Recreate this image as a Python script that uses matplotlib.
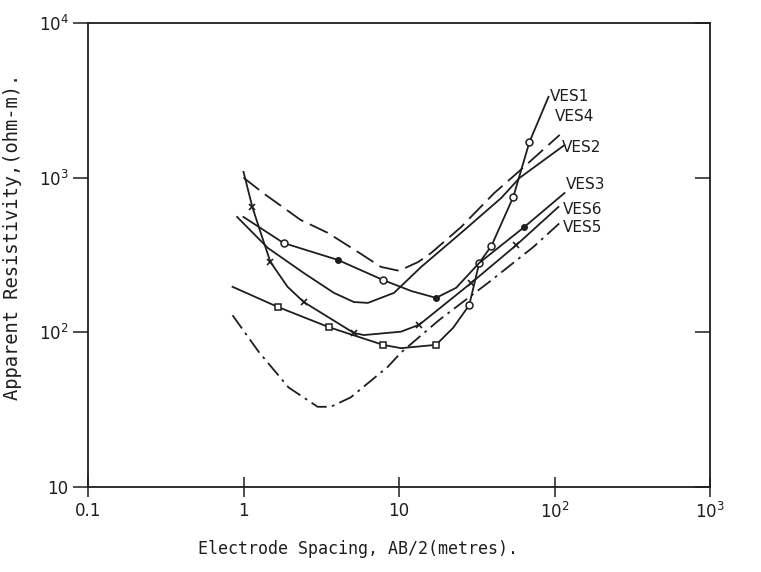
import matplotlib
matplotlib.use("Agg")
import matplotlib.pyplot as plt

# ---- data (AB/2 in m, apparent resistivity in ohm-m) ----
ves1_x = [0.85, 1.66, 3.54, 7.89, 10.3, 17.3, 22.3, 28.3, 32.8, 39.3, 54.3, 69.0, 91.5]
ves1_y = [197, 146, 108, 83, 79, 83, 107, 150, 281, 362, 750, 1700, 3330]

ves4_x = [1.0, 1.35, 2.33, 3.48, 5.44, 7.65, 10.0, 13.3, 16.1, 25.1, 41.0, 58.6, 108]
ves4_y = [1000, 790, 533, 440, 331, 265, 250, 285, 326, 480, 796, 1090, 1890]

ves2_x = [0.91, 1.43, 2.44, 3.81, 5.13, 6.31, 9.29, 13.9, 25.1, 45.5, 59.5, 116]
ves2_y = [557, 352, 242, 180, 157, 155, 180, 265, 440, 740, 995, 1625]

ves3_x = [1.0, 1.81, 4.04, 7.89, 12.0, 17.3, 23.3, 32.8, 64.0, 116]
ves3_y = [557, 378, 294, 218, 185, 167, 194, 281, 480, 796]

ves6_x = [1.0, 1.14, 1.29, 1.49, 1.92, 2.44, 5.13, 5.95, 10.3, 13.5, 29.2, 56.9, 106]
ves6_y = [1090, 647, 440, 285, 197, 157, 99, 96, 101, 112, 209, 367, 647]

ves5_x = [0.85, 1.25, 1.95, 3.0, 3.64, 4.9, 8.49, 10.3, 18.1, 38.1, 73.3, 108]
ves5_y = [129, 75, 44, 33, 33, 38, 60, 74, 120, 212, 357, 509]

labels = ["VES1", "VES4", "VES2", "VES3", "VES6", "VES5"]
label_x = [93, 100, 111, 119, 114, 114]
label_y = [3330, 2470, 1557, 898, 618, 473]

xticks = [0.1, 1, 10, 100, 1000]
xticklabels = ["0.1", "1", "10", r"$10^2$", r"$10^3$"]
yticks = [10, 100, 1000, 10000]
yticklabels = ["10", r"$10^2$", r"$10^3$", r"$10^4$"]

ink = "#1e1e1e"

fig = plt.figure(figsize=(7.61, 5.72), dpi=100)
ax = fig.add_axes([88/761, 85/572, (710-88)/761, (487-23)/572])
ax.set_xscale("log")
ax.set_yscale("log")
ax.set_xlim(0.1, 1000)
ax.set_ylim(10, 10000)

lw = 1.3
# VES1: squares on left limb, circles on steep limb
ax.plot(ves1_x, ves1_y, color=ink, lw=lw)
ax.plot(ves1_x, ves1_y, ls="none", marker="s", ms=4.5, mfc="white", mec=ink,
        mew=1.1, markevery=[1, 2, 3, 5])
ax.plot(ves1_x, ves1_y, ls="none", marker="o", ms=5, mfc="white", mec=ink,
        mew=1.1, markevery=[7, 8, 9, 10, 11])
# VES4: long dashes
ax.plot(ves4_x, ves4_y, color=ink, lw=lw, ls=(0, (11, 4)))
# VES2: solid
ax.plot(ves2_x, ves2_y, color=ink, lw=lw)
# VES3: solid with circles
ax.plot(ves3_x, ves3_y, color=ink, lw=lw)
ax.plot(ves3_x, ves3_y, ls="none", marker="o", ms=5, mfc="white", mec=ink,
        mew=1.1, markevery=[1, 3])
ax.plot(ves3_x, ves3_y, ls="none", marker="o", ms=4, mfc=ink, mec=ink,
        markevery=[2, 5, 8])
# VES6: solid with x
ax.plot(ves6_x, ves6_y, color=ink, lw=lw, marker="x", ms=5, mew=1.2,
        markevery=[1, 3, 5, 6, 9, 10, 11])
# VES5: dash-dot
ax.plot(ves5_x, ves5_y, color=ink, lw=lw, ls=(0, (9, 3, 1.5, 3)))

for t, xv, yv in zip(labels, label_x, label_y):
    ax.text(xv, yv, t, fontsize=11, color=ink, ha="left", va="center")

ax.set_xticks(xticks)
ax.set_xticklabels(xticklabels)
ax.set_yticks(yticks)
ax.set_yticklabels(yticklabels)
ax.minorticks_off()
ax.tick_params(axis="x", direction="inout", length=14, width=1.1, labelsize=12,
               pad=4, colors=ink)
ax.tick_params(axis="y", direction="out", length=11, width=1.1, labelsize=12,
               pad=3, colors=ink, right=True)
for s in ax.spines.values():
    s.set_linewidth(1.3)
    s.set_color(ink)
# right-side ticks point inward
for tl in ax.yaxis.get_major_ticks():
    tl.tick2line.set_marker(matplotlib.lines.TICKLEFT)
    tl.tick2line.set_markersize(11)

fig.text(358/761, 23/572, "Electrode Spacing, AB/2(metres).",
         family="DejaVu Sans Mono", fontsize=12, ha="center", va="center", color=ink)
fig.text(13/761, 335/572, "Apparent Resistivity,(ohm-m).",
         family="DejaVu Sans Mono", fontsize=13.5, ha="center", va="center",
         rotation=90, color=ink)

fig.savefig("out.png", dpi=100, facecolor="white")
